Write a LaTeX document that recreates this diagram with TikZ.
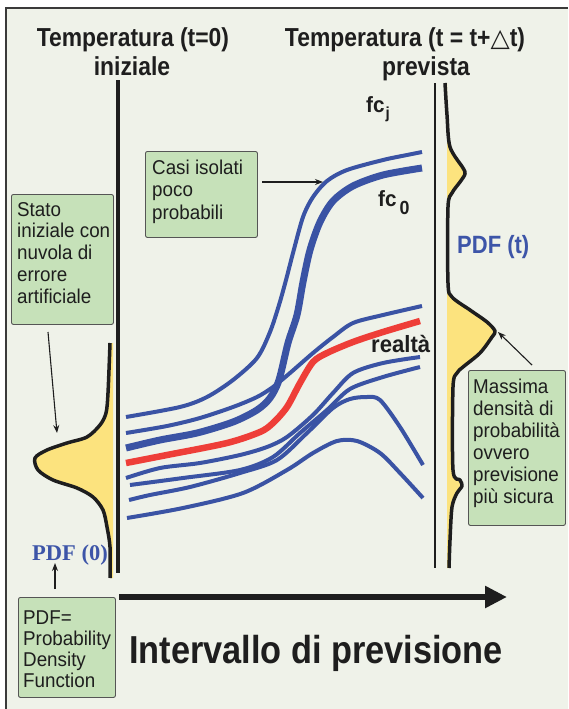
\documentclass[tikz,border=0pt]{standalone}
\usepackage{fontspec}
\setmainfont{Liberation Sans}
\newfontfamily\hd{Liberation Sans}[FakeStretch=0.88]
\newfontfamily\lab{Liberation Sans}[FakeStretch=0.94]
\newfontfamily\serifb{Liberation Serif}
\newfontfamily\dejavu{DejaVu Sans}
\usetikzlibrary{arrows.meta}
\definecolor{bg}{HTML}{EFF2E9}
\definecolor{frame}{HTML}{3A3A3A}
\definecolor{ink}{HTML}{1E1E1E}
\definecolor{cblue}{HTML}{3A53A4}
\definecolor{cred}{HTML}{EE3E38}
\definecolor{cyel}{HTML}{FCE37E}
\definecolor{ctext}{HTML}{3D55A8}
\definecolor{boxgreen}{HTML}{C6E1B9}
\definecolor{boxborder}{HTML}{555555}
\tikzset{
  thinb/.style={draw=cblue, line width=4pt, line join=round},
  thickb/.style={draw=cblue, line width=7pt, line join=round},
  redl/.style={draw=cred, line width=6.5pt, line join=round},
  gbox/.style={draw=boxborder, fill=boxgreen, line width=0.9pt, rounded corners=2pt, inner sep=0pt, anchor=north west},
  boxtext/.style={anchor=base west, inner sep=0pt, text=ink, font=\lab\fontsize{20}{21.8}\selectfont},
  ann/.style={draw=ink, line width=1.1pt, -{Stealth[length=8pt,width=6pt]}},
  axisl/.style={draw=ink, line width=3.5pt},
  pdfl/.style={draw=ink, line width=3.5pt, line join=round},
  titlefont/.style={anchor=base, inner sep=0pt, text=ink, font=\hd\bfseries\fontsize{26}{28}\selectfont},
  lbl/.style={anchor=base west, inner sep=0pt, text=ink, font=\lab\bfseries\fontsize{22}{24}\selectfont},
}
\begin{document}
\begin{tikzpicture}[x=1pt, y=-1pt]
\useasboundingbox (0,0) rectangle (568,709);
\fill[white] (0,0) rectangle (568,709);
\fill[bg] (6,8) rectangle (568,709);
\draw[frame, line width=1.5pt] (6,709) -- (6,8) -- (568,8);

% titles
\node[titlefont] (t0) at (133,47) {Temperatura (t=0)};
\node[titlefont] (t0b) at (132,75) {iniziale};
\node[titlefont] (t1) at (405,47) {Temperatura (t = t+{\dejavu\mdseries\fontsize{25}{25}\selectfont △}t)};
\node[titlefont] (t1b) at (426,75) {prevista};

% left PDF
\fill[cyel] plot[smooth, tension=0.5] coordinates {(110,343) (108,393) (106,413) (100,425) (87,437) (67,443) (47,450) (35,458) (38,470) (53,480) (77,488) (93,497) (103,510) (107,527) (110,547) (110,578)} -- (113,578) -- (113,343) -- cycle;
\draw[pdfl] plot[smooth, tension=0.5] coordinates {(110,343) (108,393) (106,413) (100,425) (87,437) (67,443) (47,450) (35,458) (38,470) (53,480) (77,488) (93,497) (103,510) (107,527) (110,547) (110,578)};

% right PDF
\fill[cyel] plot[smooth, tension=0.5] coordinates {(445,83) (447,115) (450,147) (463,168) (465,174) (460,182) (452,193) (448,207) (448,283) (452,297) (470,310) (487,322) (495,331) (492,337) (480,353) (463,367) (457,373) (453,387) (453,470) (460,480) (462,486) (457,493) (452,507) (450,540) (449,568)} -- (447,568) -- (447,83) -- cycle;
\draw[pdfl] plot[smooth, tension=0.5] coordinates {(445,83) (447,115) (450,147) (463,168) (465,174) (460,182) (452,193) (448,207) (448,283) (452,297) (470,310) (487,322) (495,331) (492,337) (480,353) (463,367) (457,373) (453,387) (453,470) (460,480) (462,486) (457,493) (452,507) (450,540) (449,568)};

% axes
\coordinate (la0) at (118,80);
\coordinate (la1) at (118,573);
\draw[axisl] (la0) -- (la1);
\coordinate (ra0) at (435,83);
\coordinate (ra1) at (435,568);
\draw[draw=ink, line width=2pt] (ra0) -- (ra1);

% ensemble
\draw[thinb] plot[smooth, tension=0.5] coordinates {(126,417) (180,407) (207,397) (233,380) (257,358) (270,332) (279,305) (286,280) (293,253) (303,217) (313,197) (327,181) (347,170) (383,160) (407,155) (422,152)};
\draw[thickb] plot[smooth, tension=0.5] coordinates {(126,448) (160,440) (197,433) (233,422) (257,410) (270,398) (279,380) (288,343) (297,315) (303,282) (310,250) (320,222) (333,201) (353,186) (383,175) (422,168)};
\draw[thinb] plot[smooth, tension=0.5] coordinates {(126,433) (167,426) (200,418) (233,407) (257,397) (273,387) (290,373) (313,353) (333,337) (353,323) (383,315) (422,306)};
\draw[redl] plot[smooth, tension=0.5] coordinates {(126,463) (167,455) (227,443) (260,432) (273,423) (287,407) (300,383) (313,362) (327,353) (353,342) (383,332) (420,321)};
\draw[thinb] plot[smooth, tension=0.5] coordinates {(126,478) (160,468) (200,463) (240,455) (267,447) (287,437) (313,415) (333,393) (353,373) (383,363) (420,357)};
\draw[thinb] plot[smooth, tension=0.5] coordinates {(130,485) (183,478) (240,470) (273,457) (300,433) (327,410) (350,389) (383,377) (420,367)};
\draw[thinb] plot[smooth, tension=0.5] coordinates {(129,500) (150,495) (190,487) (240,473) (277,460) (307,433) (333,408) (350,399) (367,397) (380,400) (400,427) (423,465)};
\draw[thinb] plot[smooth, tension=0.5] coordinates {(127,518) (183,508) (243,493) (287,470) (313,453) (337,441) (357,441) (380,453) (400,473) (423,498)};

% labels on curves
\node[lbl] (fcj) at (366,112) {fc\hspace{1pt}\raisebox{-6pt}{\fontsize{16}{16}\selectfont j}};
\node[lbl] (fc0) at (378,206) {fc\hspace{3pt}\raisebox{-8pt}{\fontsize{19}{19}\selectfont 0}};
\node[lbl, font=\lab\bfseries\fontsize{23.5}{25}\selectfont] (realta) at (371,352) {realtà};
\node[anchor=base west, inner sep=0pt, text=ctext, font=\hd\bfseries\fontsize{25}{27}\selectfont] (pdft) at (457,253) {PDF (t)};
\node[anchor=base west, inner sep=0pt, text=ctext, font=\serifb\bfseries\fontsize{22.5}{24}\selectfont] (pdf0) at (32,560) {PDF (0)};

% boxes
\node[gbox, minimum width=102pt, minimum height=130pt] (stato) at (11,194) {};
\node[boxtext] (statot) at (17,216) {\begin{tabular}[t]{@{}l@{}}Stato\\iniziale con\\nuvola di\\errore\\artificiale\end{tabular}};
\node[gbox, minimum width=112pt, minimum height=86pt] (casi) at (145,151) {};
\node[boxtext, font=\lab\fontsize{20}{22.5}\selectfont] (casit) at (152,174) {\begin{tabular}[t]{@{}l@{}}Casi isolati\\poco\\probabili\end{tabular}};
\node[gbox, minimum width=97pt, minimum height=155pt] (mass) at (468,370) {};
\node[boxtext, font=\lab\fontsize{20}{22}\selectfont] (masst) at (473,393) {\begin{tabular}[t]{@{}l@{}}Massima\\densità di\\probabilità\\ovvero\\previsione\\più sicura\end{tabular}};
\node[gbox, minimum width=97pt, minimum height=100pt] (pdfb) at (18,597) {};
\node[boxtext, font=\lab\fontsize{20}{21}\selectfont] (pdfbt) at (23,624) {\begin{tabular}[t]{@{}l@{}}PDF=\\Probability\\Density\\Function\end{tabular}};

% annotation arrows
\coordinate (s1) at (48,332); \coordinate (e1) at (57,433);
\draw[ann] (s1) -- (e1);
\coordinate (s2) at (262,182); \coordinate (e2) at (323,182);
\draw[ann] (s2) -- (e2);
\coordinate (s3) at (532,365); \coordinate (e3) at (498,332);
\draw[ann] (s3) -- (e3);
\coordinate (s4) at (55,589); \coordinate (e4) at (55,563);
\draw[ann] (s4) -- (e4);

% time axis
\coordinate (ax0) at (119,597);
\coordinate (ax1) at (507,597);
\draw[draw=ink, line width=6pt, -{Triangle[length=22pt,width=21pt]}] (ax0) -- (ax1);
\node[anchor=base west, inner sep=0pt, text=ink, font=\hd\bfseries\fontsize{39}{40}\selectfont] (iv) at (129,663) {Intervallo di previsione};
\end{tikzpicture}
\end{document}
